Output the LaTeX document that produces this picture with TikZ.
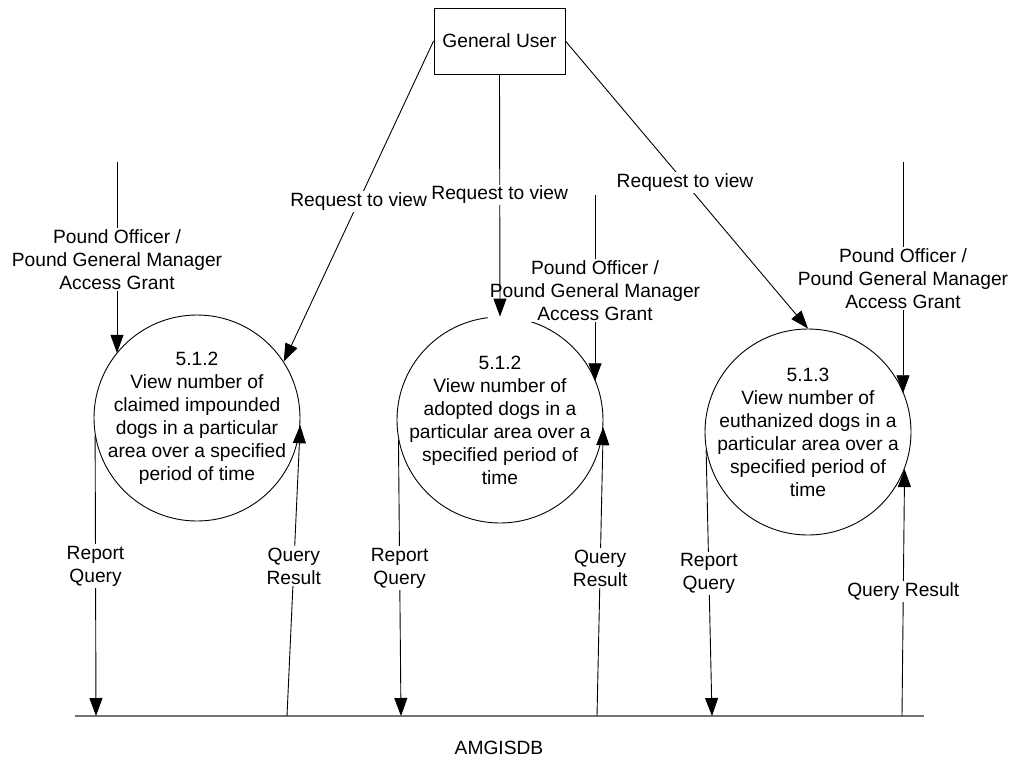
\documentclass[tikz,border=0pt]{standalone}
\usepackage{fontspec}
\setmainfont{Liberation Sans}
\usetikzlibrary{arrows.meta}
\begin{document}
\begin{tikzpicture}[x=1pt,y=-1pt,
  every node/.style={font=\fontsize{19.2}{23}\selectfont},
  flow/.style={draw=black, line width=0.9pt, -{Triangle[length=18pt,width=13pt]}},
  proc/.style={circle, draw=black, line width=0.9pt, minimum size=206pt, inner sep=0pt},
  lbl/.style={fill=white, inner sep=1.5pt, align=center},
  ptext/.style={align=center, inner sep=0pt},
  ent/.style={draw=black, line width=0.9pt, minimum width=131pt, minimum height=66pt, inner sep=0pt},
  dbline/.style={draw=black!55, line width=1.6pt}]
\useasboundingbox (0,0) rectangle (1018,780);
\fill[white] (0,0) rectangle (1018,780);

% external entity
\node[ent] (user) at (499.5,41) {General User};

% processes
\node[proc] (c1) at (197,418) {};
\node[proc] (c2) at (500,420) {};
\node[proc] (c3) at (808,432) {};
\node[ptext] (t1) at (c1) {5.1.2\\View number of\\claimed impounded\\dogs in a particular\\area over a specified\\period of time};
\node[ptext] (t2) at (c2) {5.1.2\\View number of\\adopted dogs in a\\particular area over a\\specified period of\\time};
\node[ptext] (t3) at (c3) {5.1.3\\View number of\\euthanized dogs in a\\particular area over a\\specified period of\\time};

% data store line
\coordinate (dbL) at (75,716);
\coordinate (dbR) at (924,716);
\draw[dbline] (dbL) -- (dbR);
\node (db) at (499,748) {AMGISDB};

% access grants
\coordinate (g1) at (117,162);
\coordinate (g2) at (595,195);
\coordinate (g3) at (903,162);
\draw[flow] (g1) -- node[lbl,pos=0.51] (a1) {Pound Officer /\\Pound General Manager\\Access Grant} (g1 |- c1.141);
\draw[flow] (g2) -- node[lbl,pos=0.514] (a2) {Pound Officer /\\Pound General Manager\\Access Grant} (g2 |- c2.22.7);
\draw[flow] (g3) -- node[lbl,pos=0.504] (a3) {Pound Officer /\\Pound General Manager\\Access Grant} (g3 |- c3.22.7);

% requests
\draw[flow] (user.west) -- node[lbl,pos=0.5] (rq1) {Request to view} (c1.33);
\draw[flow] (user.south) -- node[lbl,pos=0.498] (rq2) {Request to view} (c2.north);
\draw[flow] (user.east) -- node[lbl,pos=0.493] (rq3) {Request to view} (c3.north);

% report queries
\coordinate (r1) at (96,716);
\coordinate (r2) at (401,716);
\coordinate (r3) at (712,716);
\draw[flow] (c1.190) -- node[lbl,pos=0.464] (rl1) {Report\\Query} (r1);
\draw[flow] (c2.191) -- node[lbl,pos=0.464] (rl2) {Report\\Query} (r2);
\draw[flow] (c3.190) -- node[lbl,pos=0.464] (rl3) {Report\\Query} (r3);

% query results
\coordinate (q1) at (287,716);
\coordinate (q2) at (597,716);
\coordinate (q3) at (902,716);
\draw[flow] (q1) -- node[lbl,pos=0.515] (ql1) {Query\\Result} (c1.356);
\draw[flow] (q2) -- node[lbl,pos=0.512] (ql2) {Query\\Result} (c2.356);
\draw[flow] (q3) -- node[lbl,pos=0.504] (ql3) {Query Result} (c3.-21.6);
\end{tikzpicture}
\end{document}
